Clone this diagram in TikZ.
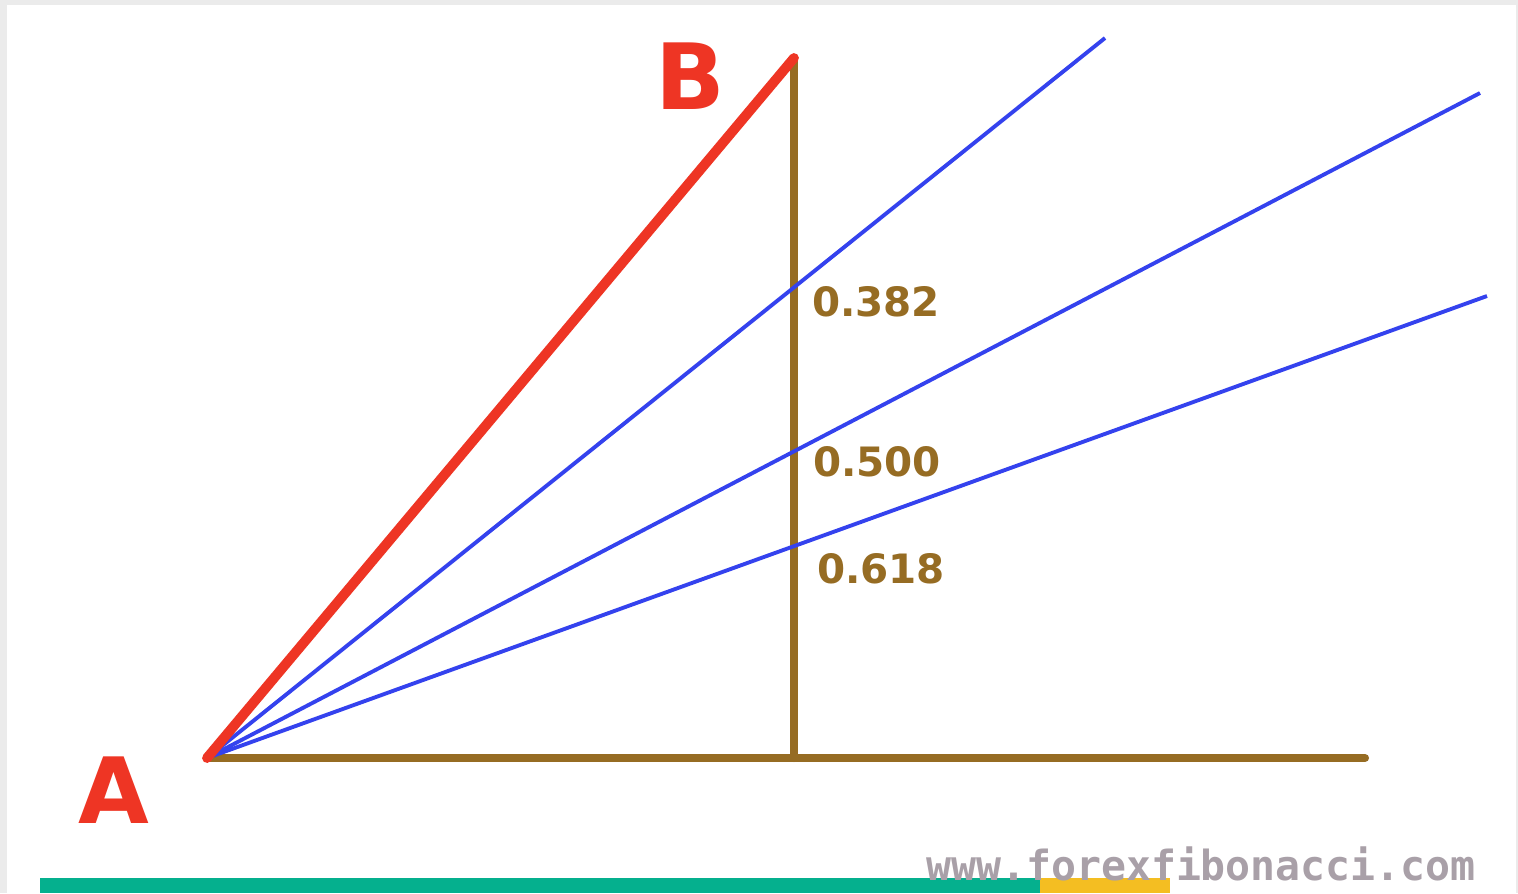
\documentclass[tikz,border=0pt]{standalone}
\usepackage{fontspec}
\setmainfont{DejaVu Sans}
\newfontfamily\wwwfont{DejaVu Sans Mono}
\usetikzlibrary{positioning,calc}
\definecolor{abred}{HTML}{EE3524}
\definecolor{fanblue}{HTML}{3442EE}
\definecolor{axbrown}{HTML}{966C23}
\definecolor{barg}{HTML}{05B08E}
\definecolor{bary}{HTML}{F4BE22}
\definecolor{wmgray}{HTML}{A9A0A8}
\definecolor{frame}{HTML}{EBEBEB}

\begin{document}
\begin{tikzpicture}[x=0.01cm, y=-0.01cm,
  pt/.style={font=\bfseries\fontsize{26}{26}\selectfont, text=abred, inner sep=0pt},
  lvl/.style={font=\bfseries\fontsize{11.5}{12}\selectfont, text=axbrown, inner sep=0pt},
  ab/.style={draw=abred, line width=2.8pt, line cap=round},
  fan/.style={draw=fanblue, line width=1.1pt},
  ax/.style={draw=axbrown, line width=2.3pt, line cap=round}]
  \useasboundingbox (0,0) rectangle (1518,893);
  \fill[frame] (0,0) rectangle (1518,893);
  \fill[white] (7,5) rectangle (1516,893);
  \fill[barg] (40,878) rectangle (1040,893);
  \fill[bary] (1040,878) rectangle (1170,893);
  % points
  \coordinate (a) at (207,758);
  \coordinate (b) at (794,58);
  \coordinate (foot) at (794,758);
  \coordinate (xend) at (1365,758);
  \coordinate (f1) at (1105,38);
  \coordinate (f2) at (1480,93);
  \coordinate (f3) at (1487,296);
  % axes
  \draw[ax] (b) -- (foot);
  \draw[ax] (a) -- (xend);
  % fan lines
  \foreach \t in {f1,f2,f3} \draw[fan] (a) -- (\t);
  \draw[ab] (a) -- (b);
  \node[pt] (A) at (114,790) {A};
  \node[pt] (B) at (690,76) {B};
  \node[lvl] (l382) at (876,302) {0.382};
  \node[lvl] (l500) at (877,462) {0.500};
  \node[lvl] (l618) at (881,569) {0.618};
  \node[font=\wwwfont\bfseries\fontsize{11.8}{12}\selectfont, text=wmgray, inner sep=0pt] (www) at (1201,864) {www.forexfibonacci.com};
\end{tikzpicture}
\end{document}
